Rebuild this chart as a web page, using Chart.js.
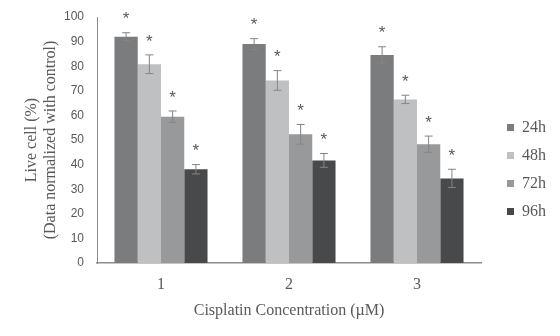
<!DOCTYPE html>
<html>
<head>
<meta charset="utf-8">
<script src="https://cdn.jsdelivr.net/npm/chart.js@4"></script>
<style>
  html, body { margin: 0; padding: 0; background: #fff; }
  #wrap { width: 560px; height: 336px; }
</style>
</head>
<body>
<div id="wrap"><canvas id="cisplatinChart" width="560" height="336"></canvas></div>
<script>
// Data
const categories = ['1', '2', '3'];
const seriesNames = ['24h', '48h', '72h', '96h'];
const live24 = [92.0, 89.0, 84.6];
const live48 = [80.8, 74.2, 66.5];
const live72 = [59.5, 52.3, 48.3];
const live96 = [38.1, 41.7, 34.4];
const err24 = [1.6, 2.2, 3.3];
const err48 = [3.8, 4.0, 1.7];
const err72 = [2.3, 4.0, 3.3];
const err96 = [1.9, 2.8, 3.7];
const yTicks = [0, 10, 20, 30, 40, 50, 60, 70, 80, 90, 100];

const barColors = ['#7b7c7e', '#bfc0c2', '#98999b', '#48494b'];
const textGrey = '#595959';
const serif = "'Liberation Serif', 'Times New Roman', serif";
const sans = "'Liberation Sans', Arial, sans-serif";

const values = [live24, live48, live72, live96];
const errors = [err24, err48, err72, err96];

// Error bars with a significance star above each one
const errorBarPlugin = {
    id: 'errorBars',
    afterDatasetsDraw(chart) {
        const ctx = chart.ctx;
        const y = chart.scales.y;
        ctx.save();
        chart.data.datasets.forEach((ds, di) => {
            const meta = chart.getDatasetMeta(di);
            meta.data.forEach((bar, i) => {
                const v = ds.data[i];
                const e = ds.errors[i];
                const top = y.getPixelForValue(v + e);
                const bot = y.getPixelForValue(v - e);
                ctx.strokeStyle = '#858585';
                ctx.lineWidth = 1;
                ctx.beginPath();
                ctx.moveTo(bar.x, top);
                ctx.lineTo(bar.x, bot);
                ctx.moveTo(bar.x - 4, top);
                ctx.lineTo(bar.x + 4, top);
                ctx.moveTo(bar.x - 4, bot);
                ctx.lineTo(bar.x + 4, bot);
                ctx.stroke();

                ctx.fillStyle = textGrey;
                ctx.font = '17px ' + sans;
                ctx.textAlign = 'center';
                ctx.textBaseline = 'middle';
                ctx.fillText('*', bar.x, top - 13);
            });
        });
        ctx.restore();
    }
};

// Move the legend to where it sits in the original: a bit right of the
// plot and centred on the canvas. It clips to its own box, so move all edges.
const legendShift = {
    id: 'legendShift',
    afterLayout(chart) {
        const lg = chart.legend;
        if (!lg) return;
        lg.left += 14;
        lg.right += 14;
        lg.top -= 7;
        lg.bottom -= 7;
    }
};

function initChart() {
    const ctx = document.getElementById('cisplatinChart').getContext('2d');

    new Chart(ctx, {
        type: 'bar',
        data: {
            labels: categories,
            datasets: seriesNames.map((name, i) => ({
                label: name,
                data: values[i],
                errors: errors[i],
                backgroundColor: barColors[i],
                borderWidth: 0,
                barPercentage: 1.0,
                categoryPercentage: 0.727
            }))
        },
        options: {
            responsive: false,
            animation: false,
            layout: { padding: { top: 17, right: 18, bottom: 0, left: 0 } },
            plugins: {
                legend: {
                    position: 'right',
                    align: 'center',
                    labels: {
                        boxWidth: 7,
                        boxHeight: 7,
                        padding: 12,
                        color: textGrey,
                        font: { family: serif, size: 16 }
                    }
                },
                tooltip: { enabled: false }
            },
            scales: {
                x: {
                    grid: { display: false, drawTicks: false },
                    border: { color: '#8c8c8c', width: 1.5 },
                    ticks: {
                        color: textGrey,
                        padding: 12,
                        font: { family: serif, size: 16 }
                    },
                    title: {
                        display: true,
                        text: 'Cisplatin Concentration (µM)',
                        color: textGrey,
                        font: { family: serif, size: 16 },
                        padding: { top: 4, bottom: 16 }
                    },
                    afterFit(scale) { scale.height = 73; }
                },
                y: {
                    min: 0,
                    max: 100,
                    grid: { display: false, drawTicks: false },
                    border: { color: '#8c8c8c', width: 1 },
                    afterBuildTicks(scale) {
                        scale.ticks = yTicks.map(v => ({ value: v }));
                    },
                    ticks: {
                        color: textGrey,
                        padding: 13,
                        font: { family: sans, size: 12 }
                    },
                    title: {
                        display: true,
                        text: ['Live cell (%)', '(Data normalized with control)'],
                        color: textGrey,
                        font: { family: serif, size: 16, lineHeight: 1.15 },
                        padding: { top: 23, bottom: 0 }
                    },
                    afterFit(scale) {
                        scale.width = 97;
                        // tick padding otherwise pushes the plot top down
                        scale.paddingTop = 0;
                        scale.paddingBottom = 0;
                    }
                }
            }
        },
        plugins: [errorBarPlugin, legendShift]
    });
}

document.addEventListener('DOMContentLoaded', initChart);
</script>
</body>
</html>
